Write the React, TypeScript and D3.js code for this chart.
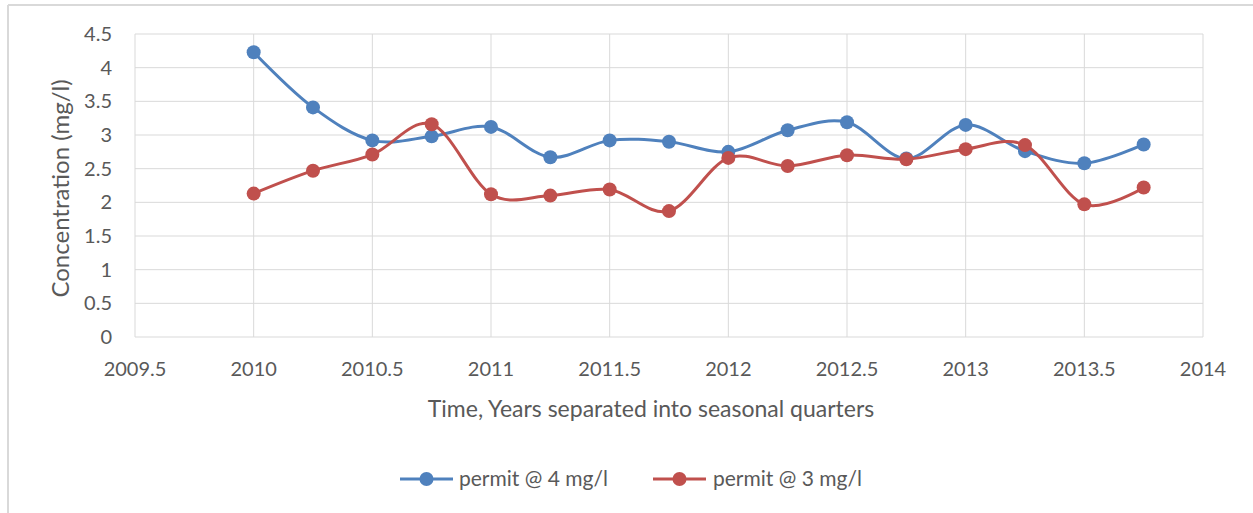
import * as d3 from 'd3';
import React from 'react';

const quarters = [
  2010, 2010.25, 2010.5, 2010.75, 2011, 2011.25, 2011.5, 2011.75,
  2012, 2012.25, 2012.5, 2012.75, 2013, 2013.25, 2013.5, 2013.75,
];
const permit4 = [
  4.23, 3.41, 2.92, 2.98, 3.12, 2.67, 2.92, 2.9,
  2.75, 3.07, 3.19, 2.65, 3.15, 2.76, 2.58, 2.86,
];
const permit3 = [
  2.13, 2.47, 2.71, 3.16, 2.12, 2.1, 2.19, 1.87,
  2.66, 2.54, 2.7, 2.64, 2.79, 2.85, 1.97, 2.22,
];
const xTicks = [2009.5, 2010, 2010.5, 2011, 2011.5, 2012, 2012.5, 2013, 2013.5, 2014];
const yTicks = [0, 0.5, 1, 1.5, 2, 2.5, 3, 3.5, 4, 4.5];

const seriesList = [
  { name: 'permit @ 4 mg/l', values: permit4, color: '#4f81bd' },
  { name: 'permit @ 3 mg/l', values: permit3, color: '#c0504d' },
];

const W = 1253;
const H = 513;
const plot = { left: 135, right: 1203, top: 34, bottom: 337 };
const font = 'Lato, "Open Sans", sans-serif';
const textColor = '#595959';
const gridColor = '#d9d9d9';

export default function App() {
  const x = d3.scaleLinear().domain([2009.5, 2014]).range([plot.left, plot.right]);
  const y = d3.scaleLinear().domain([0, 4.5]).range([plot.bottom, plot.top]);

  const line = d3
    .line<number>()
    .x((_, i) => x(quarters[i]))
    .y((d) => y(d))
    .curve(d3.curveCardinal.tension(0));

  const legendItems = [
    { x0: 400, text: 459 },
    { x0: 653, text: 713 },
  ];

  return (
    <svg
      width={W}
      height={H}
      style={{ position: 'absolute', left: 0, top: 0, background: '#fff' }}
    >
      {/* chart frame (only top and left edges show) */}
      <line x1={8} x2={W} y1={5} y2={5} stroke={gridColor} strokeWidth={2} />
      <line x1={8} x2={8} y1={5} y2={H} stroke={gridColor} strokeWidth={2} />

      {/* grid */}
      {yTicks.map((t) => (
        <line
          key={'gy' + t}
          x1={plot.left}
          x2={plot.right}
          y1={y(t)}
          y2={y(t)}
          stroke={gridColor}
          strokeWidth={1}
        />
      ))}
      {xTicks.map((t) => (
        <line
          key={'gx' + t}
          x1={x(t)}
          x2={x(t)}
          y1={plot.top}
          y2={plot.bottom}
          stroke={gridColor}
          strokeWidth={1}
        />
      ))}

      {/* tick labels */}
      {yTicks.map((t) => (
        <text
          key={'ty' + t}
          x={112}
          y={y(t)}
          dy="0.35em"
          textAnchor="end"
          fontFamily={font}
          fontSize={20}
          fill={textColor}
        >
          {t}
        </text>
      ))}
      {xTicks.map((t) => (
        <text
          key={'tx' + t}
          x={x(t)}
          y={376}
          textAnchor="middle"
          fontFamily={font}
          fontSize={20}
          fill={textColor}
        >
          {t}
        </text>
      ))}

      {/* axis titles */}
      <text
        x={651}
        y={417}
        textAnchor="middle"
        fontFamily={font}
        fontSize={23}
        fill={textColor}
      >
        Time, Years separated into seasonal quarters
      </text>
      <text
        transform={`translate(69, ${(plot.top + plot.bottom) / 2 + 3}) rotate(-90)`}
        textAnchor="middle"
        fontFamily={font}
        fontSize={24}
        fill={textColor}
      >
        Concentration (mg/l)
      </text>

      {/* series */}
      {seriesList.map((s) => (
        <g key={s.name}>
          <path
            d={line(s.values) ?? ''}
            fill="none"
            stroke={s.color}
            strokeWidth={3}
            strokeLinejoin="round"
          />
          {s.values.map((v, i) => (
            <circle
              key={i}
              cx={x(quarters[i])}
              cy={y(v)}
              r={7}
              fill={s.color}
            />
          ))}
        </g>
      ))}

      {/* legend */}
      {seriesList.map((s, i) => (
        <g key={'lg' + s.name}>
          <line
            x1={legendItems[i].x0}
            x2={legendItems[i].x0 + 53}
            y1={479}
            y2={479}
            stroke={s.color}
            strokeWidth={3}
          />
          <circle cx={legendItems[i].x0 + 26.5} cy={479} r={7} fill={s.color} />
          <text
            x={legendItems[i].text}
            y={479}
            dy="0.35em"
            fontFamily={font}
            fontSize={21}
            fill={textColor}
          >
            {s.name}
          </text>
        </g>
      ))}
    </svg>
  );
}
